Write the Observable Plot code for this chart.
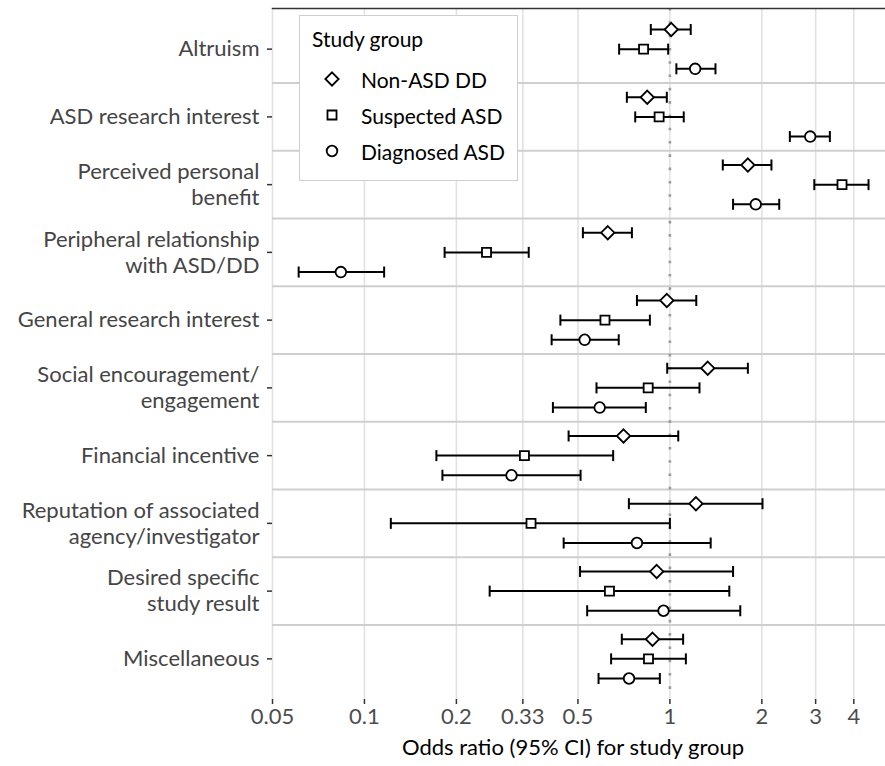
<!DOCTYPE html>
<html>
<head>
<meta charset="utf-8">
<script src="https://cdn.jsdelivr.net/npm/d3@7"></script>
<script src="https://cdn.jsdelivr.net/npm/@observablehq/plot@0.6"></script>
<style>
  html, body { margin: 0; padding: 0; background: #fff; }
  #wrap { position: relative; width: 885px; height: 766px; font-family: Lato, sans-serif; }
  #legend { position: absolute; left: 299px; top: 15px; width: 217px; height: 164px; border: 1.5px solid #cfcfcf; background: #fff; color: #000; font-size: 21px; }
  #legend .title { position: absolute; left: 12px; top: 22px; transform: translateY(-50%); white-space: nowrap; }
  #legend .item { position: absolute; left: 0; height: 30px; display: flex; align-items: center; white-space: nowrap; transform: translateY(-50%); }
  #legend .item svg { width: 30px; height: 30px; margin-left: 17px; margin-right: 14px; overflow: visible; }
</style>
</head>
<body>
<div id="wrap"></div>
<script>
const categories = [
  "Altruism",
  "ASD research interest",
  "Perceived personal\nbenefit",
  "Peripheral relationship\nwith ASD/DD",
  "General research interest",
  "Social encouragement/\nengagement",
  "Financial incentive",
  "Reputation of associated\nagency/investigator",
  "Desired specific\nstudy result",
  "Miscellaneous"
];
const groups = ["Non-ASD DD", "Suspected ASD", "Diagnosed ASD"];

// Odds ratios and 95% CI per group (in category order)
const orNonASD = [1.01, 0.843, 1.80, 0.626, 0.977, 1.33, 0.705, 1.217, 0.905, 0.877];
const loNonASD = [0.866, 0.723, 1.49, 0.519, 0.78, 0.98, 0.466, 0.734, 0.508, 0.696];
const hiNonASD = [1.17, 0.977, 2.15, 0.751, 1.22, 1.80, 1.065, 2.01, 1.61, 1.105];

const orSuspected = [0.82, 0.922, 3.66, 0.251, 0.613, 0.849, 0.334, 0.351, 0.634, 0.851];
const loSuspected = [0.682, 0.77, 2.97, 0.183, 0.438, 0.575, 0.172, 0.122, 0.257, 0.642];
const hiSuspected = [0.987, 1.11, 4.47, 0.345, 0.86, 1.25, 0.652, 1.0, 1.565, 1.128];

const orDiagnosed = [1.21, 2.88, 1.91, 0.0837, 0.526, 0.589, 0.303, 0.78, 0.953, 0.735];
const loDiagnosed = [1.05, 2.47, 1.61, 0.0609, 0.41, 0.414, 0.18, 0.449, 0.536, 0.584];
const hiDiagnosed = [1.41, 3.34, 2.28, 0.116, 0.68, 0.834, 0.51, 1.36, 1.70, 0.927];

const xTicks = [0.05, 0.1, 0.2, 0.33, 0.5, 1, 2, 3, 4];
const xTickLabels = ["0.05", "0.1", "0.2", "0.33", "0.5", "1", "2", "3", "4"];
const xDomain = [0.05, 5.08];
const refLine = 1;
const xTitle = "Odds ratio (95% CI) for study group";
const legendTitle = "Study group";

const symbols = ["diamond2", "square", "circle"];
const symbolR = [6.0, 5.1, 5.3];
const dodge = [-0.29, 0, 0.29];

const seriesOR = [orNonASD, orSuspected, orDiagnosed];
const seriesLo = [loNonASD, loSuspected, loDiagnosed];
const seriesHi = [hiNonASD, hiSuspected, hiDiagnosed];

const rows = [];
groups.forEach((g, gi) => {
  categories.forEach((c, ci) => {
    rows.push({group: g, gi, category: c, ci, pos: ci + dodge[gi],
      or: seriesOR[gi][ci], lo: seriesLo[gi][ci], hi: seriesHi[gi][ci]});
  });
});
const catRows = categories.map((c, i) => ({category: c, i}));
const separators = d3.range(categories.length - 1).map(i => i + 0.5);

const capSymbol = {
  draw(context, size) {
    const h = Math.sqrt(size / Math.PI);
    context.moveTo(0, -h);
    context.lineTo(0, h);
  }
};

const font = "Lato, sans-serif";
const fs = 22;

const chart = Plot.plot({
  width: 885,
  height: 766,
  marginLeft: 272,
  marginRight: 0,
  marginTop: 8,
  marginBottom: 67,
  style: {fontFamily: font, background: "#fff", overflow: "visible"},
  x: {type: "log", domain: xDomain},
  y: {type: "linear", domain: [-0.6, categories.length - 0.4], reverse: true},
  symbol: {domain: groups, range: symbols},
  marks: [
    Plot.gridX({ticks: xTicks, stroke: "#e2e2e2", strokeOpacity: 1, strokeWidth: 1.6}),
    Plot.ruleY(separators, {stroke: "#cfcfcf", strokeWidth: 1.8}),
    Plot.ruleX([refLine], {stroke: "#9a9a9a", strokeWidth: 2.6, strokeDasharray: "2.6 10.7"}),
    Plot.frame({anchor: "top", stroke: "#333", strokeWidth: 1.5}),
    Plot.axisX({ticks: xTicks, tickFormat: (d) => xTickLabels[xTicks.indexOf(d)], tickSize: 5, tickPadding: 4,
      fontSize: fs, color: "#4d4d4d", stroke: "#333", strokeWidth: 1.5, line: true, label: null}),
    Plot.text([xTitle], {frameAnchor: "bottom", lineAnchor: "middle", dy: 48, dx: -6, fontSize: fs, fill: "#000"}),
    Plot.axisY({ticks: d3.range(categories.length), tickFormat: () => "", tickSize: 5, stroke: "#333", strokeWidth: 1.5, line: true, label: null}),
    Plot.text(catRows, {y: "i", text: "category", frameAnchor: "left", textAnchor: "end", dx: -13, dy: -1, lineHeight: 1.18,
      fontSize: fs, fill: "#454545"}),
    Plot.link(rows, {x1: "lo", x2: "hi", y1: "pos", y2: "pos", stroke: "#000", strokeWidth: 2}),
    Plot.dot(rows, {x: "lo", y: "pos", symbol: () => capSymbol, r: 5.5, stroke: "#000", strokeWidth: 2, fill: "none"}),
    Plot.dot(rows, {x: "hi", y: "pos", symbol: () => capSymbol, r: 5.5, stroke: "#000", strokeWidth: 2, fill: "none"}),
    ...groups.map((g, gi) => Plot.dot(rows.filter(d => d.gi === gi), {x: "or", y: "pos", symbol: "group", r: symbolR[gi],
      fill: "#fff", stroke: "#000", strokeWidth: 1.8}))
  ]
});

const wrap = document.getElementById("wrap");
wrap.appendChild(chart);

// Legend (symbols drawn with d3's symbol generator, same shapes as Plot uses)
const legend = document.createElement("div");
legend.id = "legend";
const title = document.createElement("div");
title.className = "title";
title.textContent = legendTitle;
legend.appendChild(title);
const d3Symbols = [d3.symbolDiamond2, d3.symbolSquare, d3.symbolCircle];
groups.forEach((g, gi) => {
  const item = document.createElement("div");
  item.className = "item";
  item.style.top = (63 + gi * 36) + "px";
  const svg = d3.create("svg").attr("viewBox", "-15 -15 30 30");
  svg.append("path").attr("d", d3.symbol(d3Symbols[gi], Math.PI * symbolR[gi] * symbolR[gi])())
    .attr("fill", "#fff").attr("stroke", "#000").attr("stroke-width", 1.8);
  item.appendChild(svg.node());
  const lab = document.createElement("span");
  lab.textContent = g;
  item.appendChild(lab);
  legend.appendChild(item);
});
wrap.appendChild(legend);
</script>
</body>
</html>
